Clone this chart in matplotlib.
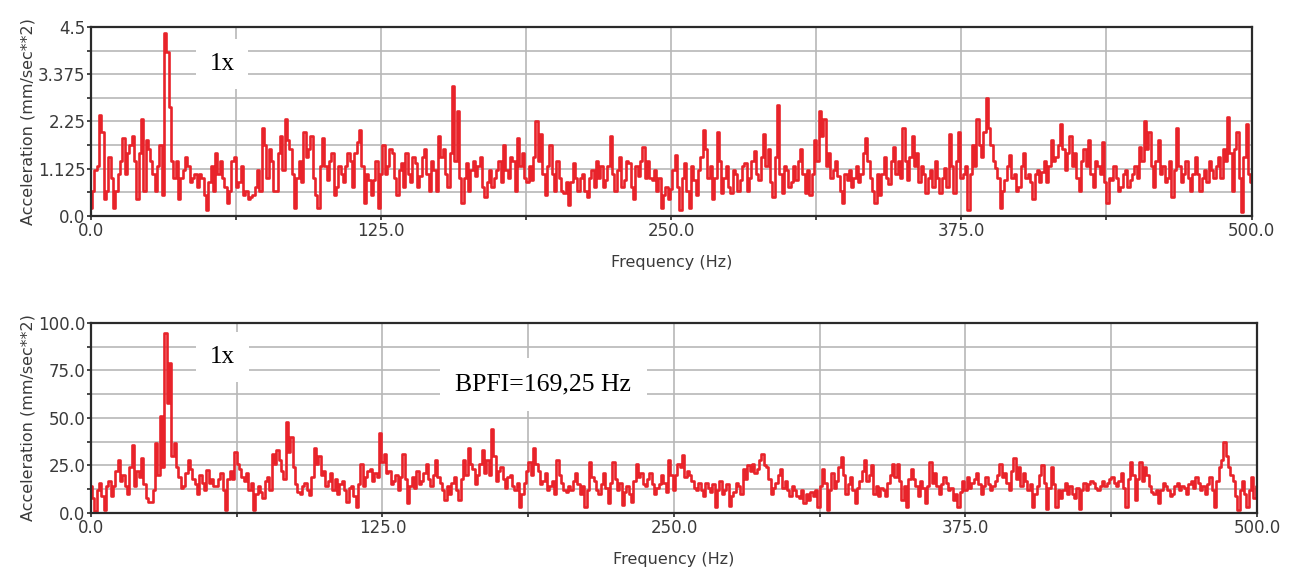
import numpy as np
import matplotlib
import matplotlib.pyplot as plt
from matplotlib.ticker import MultipleLocator, FixedLocator

matplotlib.use('Agg')

# spectra at 1 Hz: one list for the even bins
# (0, 2, ..., 500 Hz) and one for the odd bins (1, 3, ..., 499 Hz)
even_hz = np.arange(0, 502, 2)
odd_hz = np.arange(1, 500, 2)

# top spectrum, acceleration (mm/sec**2)
top_even = [
    0.2, 1.1, 2.4, 0.4, 1.4, 0.2, 1.0, 1.85, 1.5, 1.9,
    0.4, 2.3, 1.8, 1.3, 0.6, 1.7, 4.35, 2.6, 0.9, 0.4,
    1.1, 1.2, 0.9, 0.7, 0.9, 0.15, 1.2, 1.5, 1.3, 0.7,
    0.6, 1.4, 0.8, 0.5, 0.4, 0.5, 1.1, 2.1, 0.9, 1.3,
    0.6, 1.9, 2.3, 1.6, 0.2, 1.3, 2.0, 1.6, 0.9, 0.2,
    1.85, 0.85, 1.5, 0.7, 1.0, 1.2, 1.3, 1.5, 2.05, 0.3,
    0.85, 0.85, 0.2, 1.7, 1.2, 1.5, 0.5, 1.25, 1.5, 0.8,
    1.25, 0.95, 1.6, 0.6, 1.1, 1.9, 1.6, 0.7, 3.1, 2.5,
    0.3, 1.25, 1.1, 0.95, 1.4, 0.45, 1.1, 0.9, 1.3, 1.7,
    0.9, 1.3, 1.85, 1.5, 0.8, 0.85, 2.25, 1.95, 0.5, 1.7,
    0.6, 0.9, 0.55, 0.25, 1.25, 0.6, 1.0, 0.45, 1.1, 1.3,
    1.2, 0.85, 1.9, 0.6, 1.4, 0.85, 1.25, 0.4, 0.95, 1.65,
    1.3, 0.85, 0.6, 0.2, 0.7, 0.65, 1.45, 0.15, 1.25, 0.2,
    0.85, 1.1, 2.05, 0.9, 0.4, 2.0, 0.55, 1.2, 0.55, 1.0,
    0.85, 1.25, 0.9, 1.55, 0.85, 1.95, 1.6, 0.45, 2.65, 0.55,
    1.1, 0.8, 0.85, 1.6, 0.55, 0.5, 1.8, 2.5, 2.3, 1.5,
    1.1, 0.95, 0.3, 0.85, 0.7, 1.2, 1.0, 1.85, 0.9, 0.3,
    0.5, 1.4, 0.75, 1.65, 1.3, 2.1, 0.85, 1.9, 1.5, 1.2,
    0.55, 1.1, 1.3, 0.55, 1.15, 1.95, 0.55, 2.0, 1.0, 0.15,
    1.7, 2.3, 1.4, 2.8, 1.7, 1.15, 0.2, 0.85, 1.45, 1.0,
    0.7, 1.5, 1.0, 0.4, 1.1, 1.05, 0.8, 1.8, 1.4, 2.2,
    1.1, 1.9, 1.5, 0.6, 1.6, 1.8, 0.7, 1.2, 1.75, 0.3,
    0.85, 0.9, 0.7, 1.1, 0.85, 1.2, 1.65, 2.25, 2.0, 0.7,
    1.8, 1.2, 0.9, 0.45, 2.1, 0.8, 1.3, 0.6, 1.4, 0.6,
    1.1, 1.3, 0.9, 1.4, 1.6, 2.35, 0.6, 2.0, 0.1, 2.2,
    0.8,
]
top_odd = [
    0.6, 1.2, 2.0, 0.6, 0.9, 0.6, 1.3, 1.0, 1.7, 1.3,
    1.5, 0.6, 1.6, 1.0, 1.2, 0.5, 3.9, 1.3, 1.3, 0.9,
    1.4, 0.8, 1.0, 1.0, 0.5, 0.8, 0.6, 1.0, 0.9, 0.3,
    1.3, 0.7, 1.2, 0.6, 0.45, 0.7, 0.6, 1.7, 1.6, 0.6,
    1.5, 1.1, 1.8, 1.0, 0.9, 0.8, 1.4, 1.9, 0.5, 1.2,
    1.2, 1.3, 0.5, 1.2, 0.8, 1.5, 0.7, 1.75, 1.2, 1.0,
    0.5, 1.3, 1.0, 1.0, 1.6, 0.9, 1.1, 0.7, 1.0, 1.4,
    0.7, 1.4, 1.0, 1.3, 0.6, 1.4, 1.0, 1.5, 1.3, 0.9,
    0.9, 0.6, 1.3, 1.2, 0.7, 0.8, 0.7, 1.1, 0.8, 1.1,
    1.4, 0.6, 1.2, 0.9, 1.2, 1.4, 1.3, 1.0, 1.2, 1.0,
    1.3, 0.6, 0.8, 0.8, 0.9, 0.9, 0.6, 0.9, 0.7, 0.9,
    0.7, 1.2, 1.0, 1.1, 0.7, 1.3, 0.7, 1.2, 1.3, 0.9,
    0.9, 1.1, 0.9, 0.5, 0.4, 1.1, 0.7, 0.9, 0.6, 1.2,
    0.5, 1.4, 1.6, 1.2, 0.9, 1.3, 0.9, 0.7, 1.1, 0.6,
    1.2, 0.6, 1.3, 1.0, 1.4, 1.2, 0.8, 1.4, 1.0, 1.2,
    0.7, 1.2, 1.3, 1.0, 1.1, 1.0, 1.3, 1.9, 1.2, 0.9,
    1.3, 0.6, 1.0, 1.1, 0.9, 0.8, 1.5, 1.3, 0.6, 1.0,
    1.0, 0.9, 1.3, 1.0, 0.9, 1.3, 1.4, 1.2, 0.8, 1.0,
    0.9, 0.7, 0.9, 0.9, 0.7, 1.2, 1.3, 0.9, 1.2, 1.0,
    1.2, 1.7, 2.0, 2.1, 1.3, 0.9, 0.6, 1.2, 0.9, 0.6,
    1.2, 0.9, 0.8, 1.0, 0.8, 1.3, 1.2, 1.3, 1.7, 1.6,
    1.5, 1.2, 0.9, 1.3, 1.2, 1.0, 1.3, 1.0, 0.8, 0.9,
    1.2, 0.6, 1.0, 0.7, 1.0, 0.9, 1.3, 1.6, 1.2, 1.3,
    1.0, 0.8, 1.3, 1.1, 1.2, 1.0, 0.9, 1.0, 1.0, 0.9,
    0.8, 1.1, 1.2, 0.9, 1.3, 1.5, 1.6, 0.9, 1.4, 1.0,
]

# bottom spectrum, acceleration (mm/sec**2)
bottom_even = [
    14, 1, 16, 1.5, 17, 14, 28, 20, 10, 36,
    22, 29, 8, 6, 37, 51, 94.5, 79, 37, 19,
    14, 28, 18, 10, 16, 22.6, 18, 14, 21, 1.5,
    22, 32, 23, 17, 12, 1.5, 14, 8, 19, 31,
    33, 22, 48, 40, 15, 10, 16, 9.5, 34, 30,
    22, 17, 12, 10, 17, 6, 14, 3.3, 26, 19,
    23, 21, 42, 31, 22, 17, 12, 31, 5, 19,
    22, 17, 26, 14, 28, 16, 7, 10, 19, 7,
    28, 34, 23, 20, 33, 28, 44, 17, 24, 13,
    20, 12, 3.3, 16, 27, 34, 22, 17, 12, 17,
    28, 16, 11, 12, 21, 10, 3.3, 27, 17, 10,
    21, 5, 27, 12, 4, 14, 6, 26, 21, 14,
    21, 10, 15, 16, 28, 12, 26, 30.5, 22, 17,
    12, 12, 16, 11, 3.3, 17, 12, 3.5, 11, 14,
    23, 25, 26, 23, 31, 24, 10, 16, 23, 17,
    9, 12, 8, 5, 7, 9, 3.3, 23, 1.5, 21,
    17, 29.6, 10, 19, 5, 17, 28, 20, 10, 9,
    12, 16, 26, 26, 7, 3.3, 23, 14, 17, 5,
    27, 21, 10, 19, 12, 7, 3.3, 17, 19, 16,
    21, 10, 19, 12, 17, 26, 21, 12, 29, 24,
    21, 12, 3.3, 14, 25, 2, 24, 3.3, 8, 16,
    14, 8, 2, 16, 15, 16, 12, 17, 16, 19,
    14, 21, 3.3, 27, 7, 27, 24, 14, 10, 5,
    16, 12, 10, 16, 14, 10, 17, 19, 12, 10,
    19, 3.3, 24, 37.5, 24, 17, 1.5, 17, 3.3, 19,
    14,
]
bottom_odd = [
    8, 12, 9, 14, 9, 22, 17, 14, 24, 14,
    19, 15, 6, 12, 20, 24, 58, 30, 24, 13,
    21, 23, 15, 20, 12, 16, 14, 18, 12, 18,
    18, 26, 19, 21, 16, 10, 11, 17, 12, 26,
    28, 18, 32, 24, 11, 14, 12, 19, 26, 20,
    14, 21, 18, 15, 12, 13, 9, 15, 14, 22,
    17, 19, 27, 21, 15, 20, 19, 18, 14, 13,
    15, 21, 18, 20, 19, 12, 14, 16, 12, 18,
    20, 26, 15, 26, 21, 20, 30, 22, 18, 19,
    14, 16, 10, 22, 20, 26, 15, 21, 14, 10,
    20, 12, 14, 17, 15, 14, 12, 19, 12, 15,
    13, 16, 18, 16, 11, 10, 17, 19, 15, 18,
    15, 13, 20, 11, 20, 20, 24, 19, 20, 13,
    16, 9, 13, 15, 12, 10, 15, 9, 16, 10,
    18, 22, 21, 28, 25, 18, 13, 20, 13, 12,
    14, 9, 12, 10, 11, 12, 14, 16, 12, 13,
    24, 20, 15, 12, 13, 22, 17, 25, 14, 13,
    9, 20, 19, 17, 14, 18, 18, 9, 13, 14,
    16, 14, 15, 16, 13, 10, 11, 12, 13, 18,
    15, 14, 15, 14, 20, 19, 16, 22, 18, 14,
    17, 15, 10, 20, 16, 13, 15, 12, 12, 10,
    10, 13, 12, 12, 17, 13, 14, 14, 18, 16,
    17, 13, 18, 20, 18, 17, 20, 11, 12, 12,
    14, 9, 14, 12, 13, 15, 13, 16, 14, 15,
    12, 17, 28, 30, 20, 9, 12, 10, 12, 8,
]

top_yticks = [0.0, 1.125, 2.25, 3.375, 4.5]
top_ylabels = ['0.0', '1.125', '2.25', '3.375', '4.5']
bottom_yticks = [0.0, 25.0, 50.0, 75.0, 100.0]
bottom_ylabels = ['0.0', '25.0', '50.0', '75.0', '100.0']
xticks = [0.0, 125.0, 250.0, 375.0, 500.0]
xlabels = ['0.0', '125.0', '250.0', '375.0', '500.0']

plt.rcParams['font.family'] = ['DejaVu Sans']

line_color = '#e8232a'
grid_color = '#b8b8b8'
text_color = '#3a3a3a'
serif = ['Liberation Serif', 'DejaVu Serif']


def merge(even_vals, odd_vals):
    f = np.concatenate([even_hz, odd_hz])
    v = np.concatenate([even_vals, odd_vals])
    order = np.argsort(f)
    return f[order], v[order]


def style_axes(ax, yticks, ylabels):
    ax.set_xlim(0, 500)
    ax.set_ylim(yticks[0], yticks[-1])
    ax.xaxis.set_major_locator(FixedLocator(xticks))
    ax.set_xticklabels(xlabels)
    ax.xaxis.set_minor_locator(MultipleLocator(62.5))
    ax.yaxis.set_major_locator(FixedLocator(yticks))
    ax.set_yticklabels(ylabels)
    ax.yaxis.set_minor_locator(MultipleLocator(yticks[1] / 2))
    ax.set_axisbelow(True)
    ax.grid(which='both', color=grid_color, linewidth=1.2)
    ax.tick_params(which='both', direction='out', length=3, width=1.2,
                   colors='#2a2a2a', labelcolor=text_color, labelsize=12, pad=1)
    for sp in ax.spines.values():
        sp.set_color('#2a2a2a')
        sp.set_linewidth(1.6)
    ax.set_ylabel('Acceleration (mm/sec**2)', fontsize=11.5, color=text_color, labelpad=2)
    ax.set_xlabel('Frequency (Hz)', fontsize=11.5, color=text_color, labelpad=11)


fig = plt.figure(figsize=(12.96, 5.74), dpi=100)
ax1 = fig.add_axes([0.0702, 0.6237, 0.8955, 0.3293])
ax2 = fig.add_axes([0.0702, 0.1063, 0.8997, 0.3310])

f_top, v_top = merge(top_even, top_odd)
ax1.step(f_top, v_top, where='mid', color=line_color, linewidth=1.9)
style_axes(ax1, top_yticks, top_ylabels)

f_bot, v_bot = merge(bottom_even, bottom_odd)
ax2.step(f_bot, v_bot, where='mid', color=line_color, linewidth=1.9)
style_axes(ax2, bottom_yticks, bottom_ylabels)

box = dict(boxstyle='square,pad=0.55', facecolor='white', edgecolor='none')
ax1.text(56.5, 3.62, '1x', fontsize=18, family=serif, ha='center', va='center',
         bbox=box, zorder=5)
ax2.text(56.5, 82, '1x', fontsize=18, family=serif, ha='center', va='center',
         bbox=box, zorder=5)
ax2.text(194, 67.5, 'BPFI=169,25 Hz', fontsize=18.5, family=serif, ha='center',
         va='center', bbox=dict(boxstyle='square,pad=0.6', facecolor='white',
                                edgecolor='none'), zorder=5)

fig.savefig('out.png', dpi=100, facecolor='white')
